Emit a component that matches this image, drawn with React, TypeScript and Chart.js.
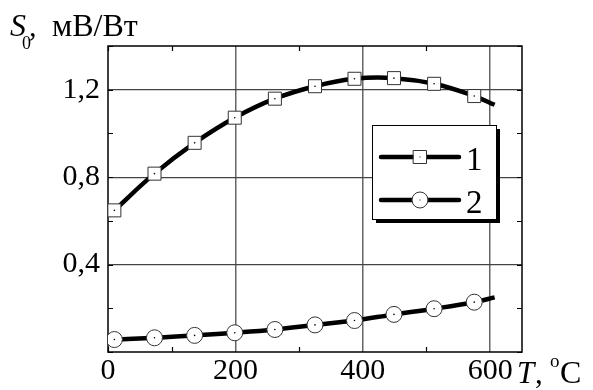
import React, { useEffect, useRef } from 'react';
import { Chart, registerables } from 'chart.js';
Chart.register(...registerables);

// Measured points (markers)
const temperature = [10, 73, 136, 199, 262, 325, 387, 449, 512, 575];
const sensitivity1 = [0.648, 0.816, 0.957, 1.072, 1.159, 1.216, 1.25, 1.253, 1.227, 1.171];
const sensitivity2 = [0.057, 0.065, 0.076, 0.088, 0.103, 0.124, 0.144, 0.172, 0.198, 0.228];
// Fitted curve extents
const curveStartT = 2;
const curveEndT = 607;
const curve1Ends = [0.625, 1.131];
const curve2Ends = [0.055, 0.25];
// Axes
const xTicks = [0, 100, 200, 300, 400, 500, 600];
const xLabels = [0, 200, 400, 600];
const yTicks = [0, 0.2, 0.4, 0.6, 0.8, 1.0, 1.2, 1.4];
const yLabels = [0.4, 0.8, 1.2];
const legendLabels = ['1', '2'];

const SERIF = '"Liberation Serif", "Times New Roman", serif';

const toPts = (xs: number[], ys: number[]) => xs.map((x, i) => ({ x, y: ys[i] }));
const isIn = (arr: number[], v: number) => arr.some((l) => Math.abs(l - v) < 1e-6);

export default function App() {
  const ref = useRef<HTMLCanvasElement | null>(null);
  useEffect(() => {
    const canvas = ref.current;
    if (!canvas) return;
    const line1 = [
      { x: curveStartT, y: curve1Ends[0] },
      ...toPts(temperature, sensitivity1),
      { x: curveEndT, y: curve1Ends[1] },
    ];
    const line2 = [
      { x: curveStartT, y: curve2Ends[0] },
      ...toPts(temperature, sensitivity2),
      { x: curveEndT, y: curve2Ends[1] },
    ];

    const framePlugin = {
      id: 'frame',
      beforeDatasetsDraw(chart: any) {
        const { ctx, chartArea: a, scales } = chart;
        ctx.save();
        ctx.strokeStyle = '#000';
        ctx.lineWidth = 1.2;
        ctx.beginPath();
        xTicks.forEach((v) => {
          if (isIn(xLabels, v) && v !== 0) return;
          const px = Math.round(scales.x.getPixelForValue(v)) + 0.5;
          ctx.moveTo(px, a.top);
          ctx.lineTo(px, a.top + 5);
          ctx.moveTo(px, a.bottom);
          ctx.lineTo(px, a.bottom - 5);
        });
        yTicks.forEach((v) => {
          const py = Math.round(scales.y.getPixelForValue(v)) + 0.5;
          ctx.moveTo(a.left, py);
          ctx.lineTo(a.left + 5, py);
          ctx.moveTo(a.right, py);
          ctx.lineTo(a.right - 5, py);
        });
        ctx.stroke();
        ctx.lineWidth = 1.5;
        ctx.strokeRect(a.left, a.top, a.right - a.left, a.bottom - a.top);
        ctx.restore();
      },
      afterDraw(chart: any) {
        const { ctx } = chart;
        ctx.save();
        ctx.fillStyle = '#000';
        ctx.textBaseline = 'alphabetic';
        // Y title
        ctx.font = `italic 32px ${SERIF}`;
        ctx.fillText('S', 10, 36);
        ctx.font = `18px ${SERIF}`;
        ctx.fillText('0', 22, 49);
        ctx.font = `30px ${SERIF}`;
        ctx.fillText(',', 29, 36);
        ctx.font = `32px ${SERIF}`;
        ctx.fillText('мВ/Вт', 52, 36);
        // X title
        ctx.font = `italic 31px ${SERIF}`;
        ctx.fillText('T', 517, 383);
        ctx.font = `31px ${SERIF}`;
        ctx.fillText(',', 535, 383);
        ctx.font = `19px ${SERIF}`;
        ctx.fillText('o', 550, 367);
        ctx.font = `32px ${SERIF}`;
        ctx.fillText('C', 560, 383);

        // Legend
        const lx = 372, ly = 125, lw = 124, lh = 94;
        ctx.fillStyle = '#000';
        ctx.fillRect(lx + 4, ly + 4, lw, lh);
        ctx.fillStyle = '#fff';
        ctx.fillRect(lx, ly, lw, lh);
        ctx.strokeStyle = '#000';
        ctx.lineWidth = 1;
        ctx.strokeRect(lx + 0.5, ly + 0.5, lw, lh);
        const rows = [157, 200];
        rows.forEach((ry, i) => {
          ctx.strokeStyle = '#000';
          ctx.lineWidth = 4.5;
          ctx.lineCap = 'round';
          ctx.beginPath();
          ctx.moveTo(381, ry);
          ctx.lineTo(459, ry);
          ctx.stroke();
          ctx.fillStyle = '#fff';
          ctx.strokeStyle = '#333';
          ctx.lineWidth = 1;
          ctx.beginPath();
          if (i === 0) {
            ctx.rect(413.5, ry - 6.5, 13, 13);
          } else {
            ctx.arc(420, ry, 8, 0, Math.PI * 2);
          }
          ctx.fill();
          ctx.stroke();
          ctx.fillStyle = '#000';
          ctx.fillRect(419.5, ry - 0.5, 1, 1);
          ctx.font = `33px ${SERIF}`;
          ctx.fillText(legendLabels[i], 466, ry + 13);
        });
        ctx.restore();
      },
    };

    const chart = new Chart(canvas, {
      type: 'scatter',
      data: {
        datasets: [
          {
            data: toPts(temperature, sensitivity1),
            showLine: false,
            pointRadius: 0.8,
            pointBackgroundColor: '#000',
            pointBorderWidth: 0,
            order: 0,
          } as any,
          {
            data: toPts(temperature, sensitivity2),
            showLine: false,
            pointRadius: 0.8,
            pointBackgroundColor: '#000',
            pointBorderWidth: 0,
            order: 0,
          },
          {
            data: toPts(temperature, sensitivity1),
            showLine: false,
            pointStyle: 'rect',
            pointRadius: 9.2,
            pointBackgroundColor: '#fff',
            pointBorderColor: '#333',
            pointBorderWidth: 1,
            order: 1,
          },
          {
            data: toPts(temperature, sensitivity2),
            showLine: false,
            pointStyle: 'circle',
            pointRadius: 8,
            pointBackgroundColor: '#fff',
            pointBorderColor: '#333',
            pointBorderWidth: 1,
            order: 1,
          },
          {
            data: line1,
            showLine: true,
            borderColor: '#000',
            borderWidth: 4.5,
            tension: 0.4,
            pointRadius: 0,
            order: 2,
          },
          {
            data: line2,
            showLine: true,
            borderColor: '#000',
            borderWidth: 4.5,
            tension: 0.4,
            pointRadius: 0,
            order: 2,
          },
        ],
      },
      options: {
        animation: false,
        responsive: false,
        events: [],
        layout: { padding: { top: 46, right: 71, left: 0, bottom: 0 } },
        plugins: { legend: { display: false }, tooltip: { enabled: false } },
        scales: {
          x: {
            type: 'linear',
            min: 0,
            max: 650,
            afterFit: (s: any) => { s.height = 38; },
            afterBuildTicks: (s: any) => { s.ticks = xTicks.map((value) => ({ value })); },
            ticks: {
              autoSkip: false,
              maxRotation: 0,
              padding: 1,
              color: '#000',
              font: { family: SERIF, size: 30 },
              callback: (v: any) => (isIn(xLabels, Number(v)) ? String(Math.round(Number(v))) : ''),
            },
            grid: {
              drawTicks: false,
              color: (c: any) => (c.tick && c.tick.value > 0 && isIn(xLabels, c.tick.value) ? '#666' : 'rgba(0,0,0,0)'),
              lineWidth: 1.5,
            },
            border: { display: false },
          },
          y: {
            type: 'linear',
            min: 0,
            max: 1.4,
            afterFit: (s: any) => { s.width = 108; },
            afterBuildTicks: (s: any) => { s.ticks = yTicks.map((value) => ({ value })); },
            ticks: {
              autoSkip: false,
              padding: 8,
              color: '#000',
              font: { family: SERIF, size: 30 },
              callback: (v: any) => (isIn(yLabels, Number(v)) ? Number(v).toFixed(1).replace('.', ',') : ''),
            },
            grid: {
              drawTicks: false,
              color: (c: any) => (c.tick && isIn(yLabels, c.tick.value) ? '#444' : 'rgba(0,0,0,0)'),
              lineWidth: 1.2,
            },
            border: { display: false },
          },
        },
      },
      plugins: [framePlugin],
    });
    return () => chart.destroy();
  }, []);

  return (
    <div style={{ position: 'fixed', left: 0, top: 0, width: 593, height: 390, background: '#fff' }}>
      <canvas ref={ref} width={593} height={390} style={{ width: 593, height: 390 }} />
    </div>
  );
}
